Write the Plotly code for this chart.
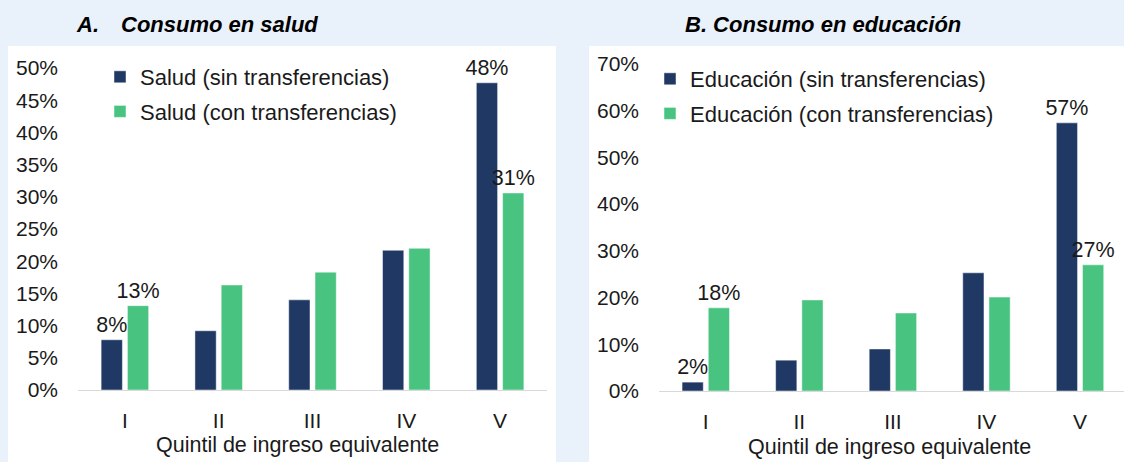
import plotly.graph_objects as go

# Quintiles
quintiles = ["I", "II", "III", "IV", "V"]

# A. Consumo en salud (% del total)
salud_sin = [7.8, 9.2, 14.0, 21.7, 47.7]
salud_con = [13.1, 16.3, 18.3, 22.0, 30.6]

# B. Consumo en educación (% del total)
edu_sin = [1.9, 6.6, 9.0, 25.3, 57.4]
edu_con = [17.8, 19.5, 16.7, 20.1, 27.0]

DARK = "#203864"
GREEN = "#48c480"
BG = "#e9f1fa"
FONT = "Liberation Sans, Arial, sans-serif"
W, H = 1124, 462


def labels(vals):
    # only first and last quintile are labelled
    return [f"{round(v)}%" if i in (0, len(vals) - 1) else "" for i, v in enumerate(vals)]


def px(x):
    return x / W


def py(y):
    return (H - y) / H


fig = go.Figure()

series = [
    ("Salud (sin transferencias)", salud_sin, DARK, "x", "y", "legend"),
    ("Salud (con transferencias)", salud_con, GREEN, "x", "y", "legend"),
    ("Educación (sin transferencias)", edu_sin, DARK, "x2", "y2", "legend2"),
    ("Educación (con transferencias)", edu_con, GREEN, "x2", "y2", "legend2"),
]
for i, (name, vals, color, xa, ya, lg) in enumerate(series):
    fig.add_trace(go.Bar(
        name=name, x=quintiles, y=vals,
        xaxis=xa, yaxis=ya, legend=lg, legendgroup=f"g{i}",
        marker=dict(color=color, line=dict(color="rgba(255,255,255,0.6)", width=0.8)),
        text=labels(vals), textposition="outside", cliponaxis=False,
        constraintext="none",
        textfont=dict(size=21.5, color="#1a1a1a", family=FONT),
        hoverinfo="skip",
    ))

axis_common = dict(showgrid=False, zeroline=False, ticks="", color="#1a1a1a",
                   automargin=False,
                   tickfont=dict(size=21, family=FONT, color="#1a1a1a"))

legend_common = dict(xanchor="left", yanchor="top", bgcolor="rgba(0,0,0,0)",
                     font=dict(size=22, family=FONT, color="#1a1a1a"),
                     tracegroupgap=3, traceorder="grouped")

fig.update_layout(
    width=W, height=H, autosize=False,
    margin=dict(l=0, r=0, t=0, b=0),
    paper_bgcolor=BG, plot_bgcolor="white",
    barmode="group", bargap=0.44, bargroupgap=0.19,
    font=dict(family=FONT, color="#1a1a1a"),
    xaxis=dict(domain=[px(78), px(547)], range=[-0.5, 4.5], showline=True,
               linecolor="#d9d9d9", linewidth=1, ticklabelstandoff=12, **axis_common),
    yaxis=dict(domain=[py(390), py(68)], range=[0, 50], dtick=5, ticksuffix="%",
               ticklabelstandoff=19, anchor="x", **axis_common),
    xaxis2=dict(domain=[px(659), 1.0], range=[-0.5, 4.47], showline=True, anchor="y2",
                linecolor="#d9d9d9", linewidth=1, ticklabelstandoff=12, **axis_common),
    yaxis2=dict(domain=[py(391), py(64)], range=[0, 70], dtick=10, ticksuffix="%",
                ticklabelstandoff=19, anchor="x2", **axis_common),
    legend=dict(x=px(100), y=py(56), **legend_common),
    legend2=dict(x=px(650), y=py(58), **legend_common),
    shapes=[
        dict(type="rect", xref="paper", yref="paper", x0=px(8), x1=px(556),
             y0=0, y1=py(46), fillcolor="white", line=dict(width=0), layer="below"),
        dict(type="rect", xref="paper", yref="paper", x0=px(589), x1=1.0,
             y0=0, y1=py(46), fillcolor="white", line=dict(width=0), layer="below"),
    ],
)

title_font = dict(size=22, family=FONT, color="black", weight="bold", style="italic")
xtitle_font = dict(size=21.5, family=FONT, color="#1a1a1a")
fig.add_annotation(text="A.", x=px(74), y=py(24), xref="paper", yref="paper",
                   xanchor="left", yanchor="middle", showarrow=False, font=title_font)
fig.add_annotation(text="Consumo en salud", x=px(119), y=py(24), xref="paper", yref="paper",
                   xanchor="left", yanchor="middle", showarrow=False, font=title_font)
fig.add_annotation(text="B. Consumo en educación", x=px(823), y=py(24), xref="paper",
                   yref="paper", xanchor="center", yanchor="middle", showarrow=False,
                   font=title_font)
fig.add_annotation(text="Quintil de ingreso equivalente", x=px(297), y=py(445), xref="paper",
                   yref="paper", xanchor="center", yanchor="middle", showarrow=False,
                   font=xtitle_font)
fig.add_annotation(text="Quintil de ingreso equivalente", x=px(890), y=py(447), xref="paper",
                   yref="paper", xanchor="center", yanchor="middle", showarrow=False,
                   font=xtitle_font)

# page body has a default margin; remove it so the figure fills the window
fig.write_html("out.html", post_script="document.body.style.margin='0';",
               config={"displayModeBar": False})
